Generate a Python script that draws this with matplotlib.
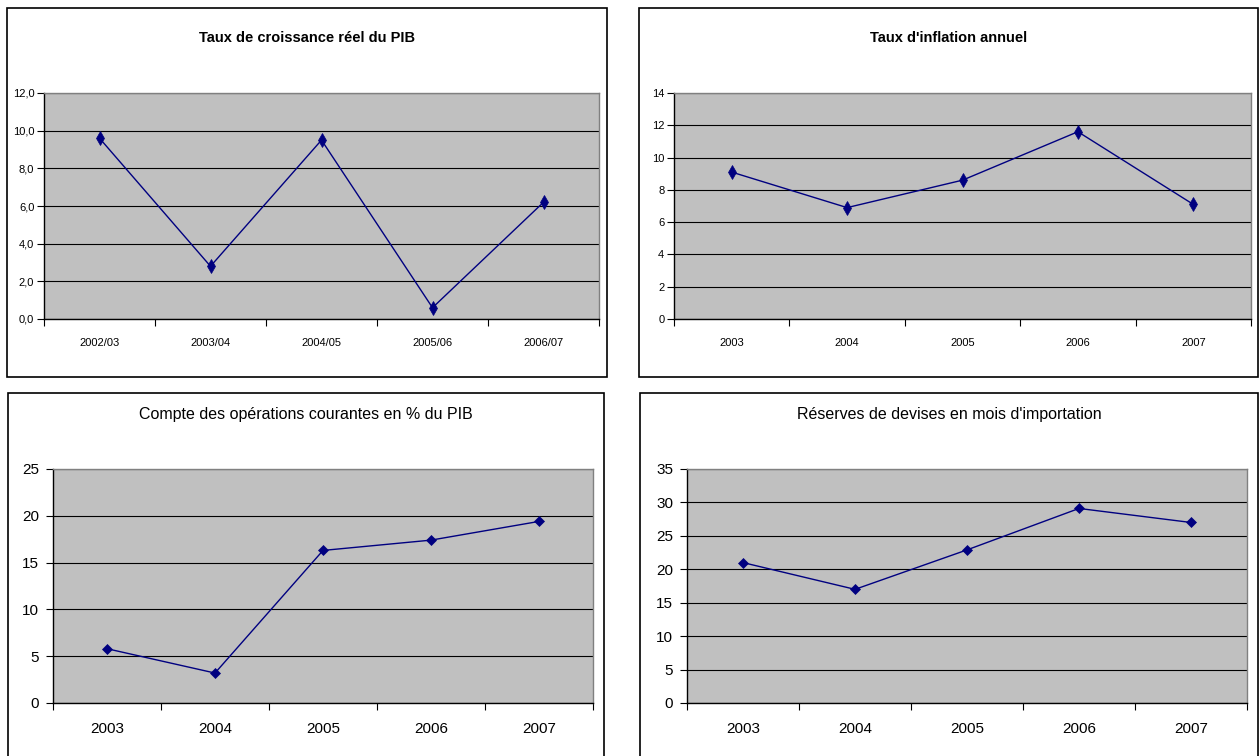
import matplotlib
matplotlib.use("Agg")
import matplotlib.pyplot as plt
from matplotlib.patches import Rectangle
from matplotlib.ticker import FuncFormatter

# ---- data ----
cat_growth = ["2002/03", "2003/04", "2004/05", "2005/06", "2006/07"]
val_growth = [9.6, 2.8, 9.5, 0.6, 6.2]

cat_years = ["2003", "2004", "2005", "2006", "2007"]
val_inflation = [9.1, 6.9, 8.6, 11.6, 7.1]
val_current = [5.8, 3.2, 16.3, 17.4, 19.4]
val_reserves = [21.0, 17.0, 22.9, 29.1, 27.0]

titles = ["Taux de croissance réel du PIB",
          "Taux d'inflation annuel",
          "Compte des opérations courantes en % du PIB",
          "Réserves de devises en mois d'importation"]

W, H = 1259, 756
fig = plt.figure(figsize=(W / 100, H / 100), dpi=100)
fig.patch.set_facecolor("white")

NARROW = ["Liberation Sans Narrow", "Liberation Sans", "DejaVu Sans"]
REG = ["Liberation Sans", "DejaVu Sans"]


def box(x0, y0, x1, y1):
    fig.patches.append(Rectangle((x0 / W, 1 - y1 / H), (x1 - x0) / W, (y1 - y0) / H,
                                 transform=fig.transFigure, fill=False,
                                 edgecolor="black", linewidth=1.2))
    return (x0 + x1) / 2 / W


def panel(px0, py0, px1, py1, cats, vals, ymax, ystep, title, title_x, title_y, bold,
          fam, tick_fs, title_fs, fmt_dec, marker, msize, ypad, xpad):
    ax = fig.add_axes([px0 / W, 1 - py1 / H, (px1 - px0) / W, (py1 - py0) / H])
    ax.set_facecolor("#C0C0C0")
    n = len(cats)
    x = list(range(n))
    ax.plot(x, vals, color="#000080", linewidth=1.0, marker=marker, markersize=msize,
            markerfacecolor="#000080", markeredgecolor="#000080", markeredgewidth=0.5,
            zorder=3, clip_on=False)
    ax.set_xlim(-0.5, n - 0.5)
    ax.set_ylim(0, ymax)
    yt = [i * ystep for i in range(int(round(ymax / ystep)) + 1)]
    ax.set_yticks(yt)
    if fmt_dec:
        ax.yaxis.set_major_formatter(FuncFormatter(lambda v, p: f"{v:.1f}".replace(".", ",")))
    else:
        ax.yaxis.set_major_formatter(FuncFormatter(lambda v, p: f"{v:.0f}"))
    ax.set_xticks([i - 0.5 for i in range(n + 1)])
    ax.set_xticklabels([])
    ax.set_xticks(x, minor=True)
    ax.set_xticklabels(cats, minor=True)
    ax.tick_params(axis="x", which="minor", length=0, pad=xpad, labelsize=tick_fs)
    ax.tick_params(axis="x", which="major", direction="out", length=5, width=0.8)
    ax.tick_params(axis="y", direction="out", length=5, width=0.8, labelsize=tick_fs, pad=ypad)
    for lab in ax.get_xticklabels(minor=True) + ax.get_yticklabels():
        lab.set_family(fam)
    ax.grid(axis="y", color="black", linewidth=0.8)
    ax.set_axisbelow(True)
    for s in ["top", "right"]:
        ax.spines[s].set_color("#808080")
        ax.spines[s].set_linewidth(1.0)
    for s in ["left", "bottom"]:
        ax.spines[s].set_color("black")
        ax.spines[s].set_linewidth(1.0)
    fig.text(title_x, 1 - title_y / H, title, ha="center", va="center",
             fontsize=title_fs, fontweight="bold" if bold else "normal", family=fam)
    return ax


# boxes
c1 = box(7, 8, 607, 377)
c2 = box(639, 8, 1258, 377)
c3 = box(8, 393, 604, 762)
c4 = box(640, 393, 1258, 762)

panel(44, 93, 599, 319, cat_growth, val_growth, 12, 2, titles[0], c1, 38, True,
      NARROW, 8.0, 10.5, True, "d", 7, 2, 14)
panel(674, 93, 1251, 319, cat_years, val_inflation, 14, 2, titles[1], c2, 38, True,
      NARROW, 8.0, 10.5, False, "d", 7, 2, 14)
panel(53, 469, 593, 703, cat_years, val_current, 25, 5, titles[2], c3, 414, False,
      REG, 11, 11.5, False, "D", 5.5, 5, 14)
panel(687, 469, 1247, 703, cat_years, val_reserves, 35, 5, titles[3], c4, 414, False,
      REG, 11, 11.5, False, "D", 5.5, 5, 14)

fig.savefig("out.png", dpi=100)
